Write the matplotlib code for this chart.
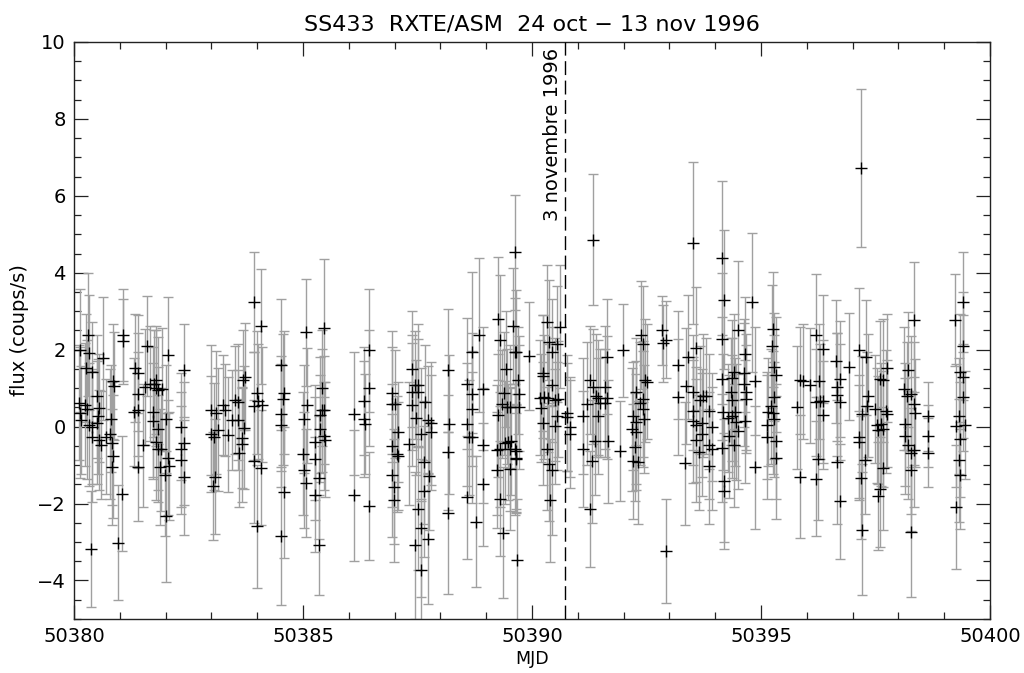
import matplotlib
matplotlib.use("Agg")
import matplotlib.pyplot as plt
from matplotlib.ticker import MultipleLocator

mjd0 = 50380.0
# time offsets (days after MJD 50380), flux (coups/s), errors
t = [
 0.12, 0.10, 0.13, 0.15, 0.24, 0.28, 0.31, 0.33, 0.27, 0.39, 0.33, 0.39, 0.40, 0.37,
 0.50, 0.55, 0.52, 0.50, 0.55, 0.58, 0.64, 0.69, 0.79, 0.80, 0.82, 0.86, 0.87, 0.86, 0.82,
 1.06, 1.07, 1.04, 0.97, 1.33, 1.39, 1.39, 1.31, 1.40, 1.39, 1.51, 1.59, 1.55, 1.66, 1.75,
 1.80, 1.80, 1.91, 1.84, 1.72, 1.73, 1.84, 1.80, 1.83, 1.90, 1.88, 2.01, 1.99, 2.06, 2.08,
 2.01, 2.06, 2.40, 2.33, 2.33, 2.40, 2.33, 2.40,
 3.00, 3.11, 3.00, 3.06, 3.15, 3.08, 3.04, 3.26, 3.30, 3.37, 3.46, 3.52, 3.59, 3.59, 3.61,
 3.66, 3.66, 3.68, 3.73, 3.71, 3.92, 4.08, 4.00, 4.02, 3.93, 4.10, 3.92, 4.08, 4.00,
 4.51, 4.58, 4.57, 4.51, 4.51, 4.58, 4.51,
 5.06, 5.08, 5.02, 5.01, 5.02, 5.06, 5.26, 5.26, 5.26, 5.34, 5.34, 5.37, 5.37, 5.41, 5.46,
 5.41, 5.46, 5.46, 5.48,
 6.11, 6.11, 6.34, 6.34, 6.35, 6.45, 6.45, 6.45,
 6.94, 6.95, 7.01, 7.08, 6.94, 7.06, 7.08, 6.95, 6.99, 6.99,
 7.37, 7.44, 7.52, 7.37, 7.52, 7.39, 7.47, 7.32, 7.57, 7.66, 7.73, 7.79, 7.79, 7.65, 7.74,
 7.65, 7.52, 7.57, 7.72, 7.44, 7.57,
 8.17, 8.19, 8.17, 8.17,
 8.59, 8.68, 8.68, 8.68, 8.59, 8.63, 8.68, 8.59, 8.85, 8.93, 8.93, 8.93, 8.78,
 9.25, 9.31, 9.43, 9.39, 9.34, 9.45, 9.52, 9.59, 9.62, 9.66, 9.62, 9.70, 9.25, 9.23, 9.29,
 9.40, 9.47, 9.55, 9.52, 9.62, 9.23, 9.52, 9.66, 9.31, 9.37, 9.68,
 9.94, 9.72, 9.72, 9.66, 9.66,
 10.25, 10.25, 10.32, 10.37, 10.44, 10.54, 10.61, 10.18, 10.27, 10.35, 10.44, 10.50, 10.57,
 10.19, 10.23, 10.50, 10.54, 10.32, 10.37, 10.44, 10.39, 10.76, 10.77, 10.82, 10.82,
 11.34, 11.12, 11.21, 11.26, 11.34, 11.40, 11.45, 11.49, 11.59, 11.63, 11.59, 11.64, 11.45,
 11.38, 11.65, 11.12, 11.30, 11.26, 11.99, 11.92,
 12.39, 12.43, 12.46, 12.50, 12.27, 12.36, 12.43, 12.21, 12.27, 12.42, 12.45, 12.18, 12.27,
 12.25, 12.21, 12.32, 12.83, 12.85, 12.92, 12.92,
 13.52, 13.19, 13.19, 13.41, 13.36, 13.59, 13.52, 13.67, 13.74, 13.80, 13.52, 13.52, 13.59,
 13.72, 13.72, 13.87, 13.92, 13.58, 13.65, 13.87, 13.94, 13.87, 13.34,
 14.14, 14.20, 14.14, 14.14, 14.17, 14.14, 14.20, 14.20, 14.29, 14.30, 14.37, 14.34, 14.37,
 14.42, 14.43, 14.37, 14.45, 14.49, 14.49, 14.42, 14.66, 14.62, 14.62, 14.67, 14.67, 14.66,
 14.80, 14.87, 14.87,
 15.26, 15.23, 15.28, 15.33, 15.28, 15.21, 15.16, 15.27, 15.28, 15.14, 15.14, 15.33, 15.33,
 15.79, 15.85, 15.91, 15.86, 16.06, 16.20, 16.21, 16.27, 16.25, 16.20,
 16.36, 16.29, 16.36, 16.36, 16.64, 16.72, 16.67, 16.65, 16.72, 16.65, 16.72, 16.93,
 17.18, 17.13, 17.29, 17.34, 17.32, 17.20, 17.13, 17.13, 17.27, 17.18, 17.20,
 17.49, 17.60, 17.66, 17.76, 17.53, 17.61, 17.56, 17.67, 17.73, 17.76, 17.66, 17.60, 17.56,
 18.20, 18.12, 18.18, 18.27, 18.34, 18.36, 18.34, 18.14, 18.14, 18.20, 18.27, 18.34, 18.27,
 18.27, 18.65, 18.65, 18.65,
 19.24, 19.40, 19.40, 19.35, 19.40, 19.40, 19.33, 19.26, 19.45, 19.35, 19.33, 19.35, 19.26,
]
flux = [
 1.98, 0.62, 0.36, 0.18, 0.57, 0.45, 2.39, 1.92, 1.52, 1.43, 0.05, 0.00, -0.26, -3.18,
 0.79, 0.48, 0.27, 0.10, -0.36, -0.48, 1.78, -0.26, -0.19, 0.21, -0.43, 1.18, 1.05, -0.77, -1.05,
 2.39, 2.22, -1.74, -3.02, 1.52, 1.39, 0.84, 0.38, 0.43, -1.05, -0.49, 2.10, 1.03, 1.12, 1.12,
 1.22, 1.00, 0.97, 0.94, 0.38, 0.15, -0.05, -0.40, -0.57, -0.59, -1.05, 0.19, -1.25, -0.81, -1.03,
 -2.33, 1.86, 1.46, 0.00, -0.59, -0.43, -0.86, -1.32,
 0.43, 0.36, -0.19, -0.26, -0.08, -1.30, -1.54, 0.56, 0.43, -0.21, 0.16, 0.69, 0.64, 0.18, -0.69,
 -0.29, -0.46, 1.22, 1.30, -0.03, 3.25, 2.61, 0.88, 0.66, 0.53, 0.57, -0.90, -1.07, -2.59,
 1.61, 0.88, 0.71, 0.34, 0.03, -1.71, -2.85,
 2.45, 0.55, 0.20, -0.70, -1.13, -1.46, -0.41, -0.84, -1.77, -3.09, -1.33, -0.05, 0.30, 0.42, 0.44,
 1.00, 2.56, -0.25, -0.34,
 0.34, -1.79, 0.66, 0.20, 0.07, 1.98, 1.00, -2.07,
 0.88, 0.58, 0.58, -0.15, -0.50, -0.71, -0.76, -1.26, -1.56, -1.92,
 1.50, 1.09, 1.07, 0.89, 0.89, 0.57, 0.23, -0.44, -0.18, 0.63, 0.18, 0.09, -0.15, -0.93, -1.29,
 -1.68, -2.14, -2.63, -2.91, -3.09, -3.73,
 1.46, 0.06, -0.67, -2.24,
 1.12, 1.93, 0.84, 0.47, 0.06, -0.28, -0.28, -1.84, 2.39, 0.98, -0.49, -1.50, -2.47,
 2.81, 2.24, 1.50, 0.87, 0.58, 0.52, 0.52, 2.62, 1.95, 1.95, 4.53, 1.20, 0.29, -0.61, -0.59,
 -0.42, -0.40, -0.38, -0.59, -0.59, -1.13, -1.10, -0.84, -1.87, -2.76, -3.47,
 1.83, 0.86, 0.51, -0.64, -0.81,
 1.39, 1.31, 2.71, 2.21, 1.93, 2.15, 2.60, 0.75, 0.77, 0.75, 1.09, 0.70, 0.72,
 0.48, 0.09, 0.01, 0.27, -0.58, -0.96, -1.13, -1.91, 0.35, 0.25, -0.01, -0.19,
 4.86, 0.28, 0.59, 1.21, 1.04, 0.80, 0.75, 0.61, 1.02, 1.82, 0.61, 0.75, 0.28,
 -0.38, -0.38, -0.58, -0.90, -2.14, 1.98, -0.64,
 2.39, 2.15, 1.21, 1.17, 0.91, 0.61, 0.72, 0.27, 0.11, 0.46, 0.20, -0.07, -0.14,
 -0.53, -0.90, -0.93, 2.50, 2.17, 2.26, -3.24,
 4.77, 1.61, 0.77, 1.81, 1.06, 2.04, 0.89, 0.70, 0.80, 0.80, 0.40, 0.14, 0.05,
 0.10, -0.20, 0.40, -0.01, -0.36, -0.67, -0.49, -0.58, -1.03, -0.95,
 4.38, 3.30, 2.29, 1.24, 0.38, -0.55, -1.41, -1.67, 0.22, -0.25, 1.26, 0.91, 0.70,
 1.43, 0.38, 0.27, 0.12, 2.50, -0.12, -0.49, 1.88, 1.39, 1.10, 0.90, 0.71, 0.14,
 3.23, 1.19, -1.06,
 2.53, 2.09, 1.55, 1.35, 0.77, 0.53, 0.38, 0.36, 0.19, 0.03, -0.27, -0.38, -0.81,
 0.50, 1.20, 1.18, -1.30, 1.07, 2.37, 0.63, 1.18, -0.83, -1.35,
 2.02, 0.66, 0.66, 0.31, 1.70, 1.24, 1.03, 0.83, 0.64, -0.92, -1.94, 1.56,
 6.72, 2.00, 1.80, 0.80, 0.53, 0.33, -0.26, -0.41, -0.86, -1.33, -2.68,
 0.46, 1.24, 1.21, 1.52, 0.03, 0.06, -0.08, -0.06, 0.40, 0.34, -1.08, -1.62, -1.80,
 1.48, 0.98, 0.79, 0.86, 0.60, 0.36, 2.78, 0.06, -0.24, -0.47, -0.68, -0.60, -1.12,
 -2.74, 0.27, -0.24, -0.68,
 2.78, 3.23, 2.10, 1.43, 1.30, 0.76, 0.28, 0.02, 0.05, -0.33, -0.88, -1.27, -2.09,
]
err = [
 1.6, 1.5, 1.7, 1.4, 1.6, 1.8, 1.6, 1.5, 1.4, 1.3, 1.6, 1.5, 1.7, 1.5,
 1.6, 1.4, 1.5, 1.6, 1.3, 1.4, 1.6, 1.5, 1.7, 1.4, 1.6, 1.5, 1.4, 1.6, 1.5,
 1.2, 1.1, 1.5, 1.5, 1.4, 1.5, 1.6, 1.4, 1.5, 1.4, 1.6, 1.3, 1.5, 1.5, 1.4,
 1.4, 1.5, 1.6, 1.4, 1.7, 1.5, 1.6, 1.5, 1.4, 1.6, 1.5, 1.4, 1.6, 1.5, 1.4,
 1.7, 1.5, 1.2, 1.4, 1.5, 1.6, 1.4, 1.5,
 1.7, 1.6, 1.5, 1.4, 1.6, 1.5, 1.4, 1.3, 1.2, 1.5, 1.3, 1.4, 1.5, 1.3, 1.4,
 1.3, 1.5, 1.3, 1.4, 1.6, 1.3, 1.5, 1.6, 1.5, 1.4, 1.5, 1.6, 1.5, 1.6,
 1.7, 1.6, 1.7, 1.5, 1.6, 1.7, 1.8,
 1.4, 1.5, 1.4, 1.6, 1.5, 1.4, 1.5, 1.6, 1.5, 1.3, 1.6, 1.4, 1.5, 1.6, 1.4,
 1.5, 1.8, 1.4, 1.5,
 1.6, 1.7, 1.4, 1.5, 1.3, 1.6, 1.5, 1.4,
 1.6, 1.5, 1.4, 1.3, 1.6, 1.5, 1.4, 1.6, 1.5, 1.6,
 1.5, 1.4, 1.6, 1.5, 1.4, 1.6, 1.5, 1.6, 1.7, 1.5, 1.4, 1.6, 1.5, 1.6, 1.4,
 1.7, 1.6, 1.8, 1.7, 1.9, 1.8,
 1.6, 1.8, 1.5, 2.1,
 1.7, 2.1, 1.6, 1.5, 1.6, 1.5, 1.7, 1.6, 2.0, 1.6, 1.5, 1.6, 1.7,
 1.6, 1.7, 1.5, 1.6, 1.4, 1.5, 1.6, 1.5, 1.4, 1.6, 1.5, 1.4, 1.6, 1.7, 1.5,
 1.6, 1.5, 1.4, 1.6, 1.7, 1.5, 1.6, 1.4, 1.5, 1.7, 1.6,
 1.4, 1.5, 1.6, 1.5, 1.4,
 1.5, 1.6, 1.5, 1.6, 1.4, 1.5, 1.6, 1.5, 1.6, 1.4, 1.5, 1.6, 1.5,
 1.4, 1.6, 1.5, 1.4, 1.6, 1.5, 1.7, 1.6, 1.5, 1.4, 1.3, 1.4,
 1.7, 1.5, 1.6, 1.4, 1.5, 1.6, 1.5, 1.4, 1.6, 1.5, 1.4, 1.6, 1.5,
 1.4, 1.6, 1.5, 1.6, 1.5, 1.2, 1.3,
 1.4, 1.5, 1.6, 1.5, 1.4, 1.6, 1.5, 1.4, 1.6, 1.5, 1.4, 1.6, 1.5,
 1.4, 1.5, 1.6, 0.9, 1.0, 1.0, 1.35,
 2.1, 1.4, 1.5, 1.6, 1.5, 1.6, 1.5, 1.4, 1.6, 1.5, 1.4, 1.6, 1.5,
 1.4, 1.6, 1.5, 1.4, 1.6, 1.5, 1.4, 1.6, 1.5, 1.6,
 2.0, 1.8, 1.7, 1.6, 1.5, 1.4, 1.6, 1.5, 1.4, 1.6, 1.5, 1.4, 1.6,
 1.5, 1.4, 1.6, 1.5, 1.8, 1.5, 1.6, 1.5, 1.4, 1.6, 1.5, 1.4, 1.6,
 1.8, 1.4, 1.6,
 1.5, 1.6, 1.4, 1.5, 1.6, 1.5, 1.4, 1.6, 1.5, 1.4, 1.6, 1.5, 1.6,
 1.6, 1.4, 1.5, 1.6, 1.5, 1.6, 1.4, 1.5, 1.6, 1.5,
 1.4, 1.5, 1.6, 1.4, 1.6, 1.5, 1.4, 1.6, 1.5, 1.6, 1.5, 1.4,
 2.05, 1.6, 1.5, 1.6, 1.4, 1.5, 1.6, 1.5, 1.4, 1.6, 1.7,
 1.4, 1.5, 1.6, 1.4, 1.5, 1.6, 1.4, 1.5, 1.6, 1.4, 1.6, 1.5, 1.4,
 1.5, 1.6, 1.4, 1.5, 1.6, 1.4, 1.5, 1.6, 1.5, 1.4, 1.6, 1.5, 1.6,
 1.7, 0.9, 0.8, 0.9,
 1.2, 1.3, 1.4, 1.5, 1.6, 1.4, 1.5, 1.6, 1.4, 1.5, 1.6, 1.4, 1.6,
]

xticks_major = [50380, 50385, 50390, 50395, 50400]
yticks_major = [-4, -2, 0, 2, 4, 6, 8, 10]
event_mjd = 50390.72
event_label = "3 novembre 1996"
title = "SS433  RXTE/ASM  24 oct \u2212 13 nov 1996"

x = [mjd0 + v for v in t]

fig = plt.figure(figsize=(10.24, 6.73), dpi=100)
ax = fig.add_axes([0.0723, 0.0803, 0.8945, 0.8573])

ax.errorbar(x, flux, yerr=err, fmt='none', ecolor='#a0a0a0', elinewidth=1.0,
            capsize=3.5, capthick=1.0, zorder=2)
ax.plot(x, flux, '+', color='black', ms=8, mew=1.0, zorder=3)

ax.axvline(event_mjd, color='black', lw=1.0, dashes=(10, 4), zorder=4)
ax.text(event_mjd - 0.06, 9.85, event_label, rotation=90, ha='right', va='top',
        fontsize=14, color='black')

ax.set_xlim(50380, 50400)
ax.set_ylim(-5, 10)
ax.set_xticks(xticks_major)
ax.set_xticklabels([str(v) for v in xticks_major])
ax.set_yticks(yticks_major)
ax.set_yticklabels([str(v).replace('-', '\u2212') for v in yticks_major])
ax.xaxis.set_minor_locator(MultipleLocator(1))
ax.yaxis.set_minor_locator(MultipleLocator(0.5))
ax.tick_params(which='both', direction='in', top=True, right=True, labelsize=14,
               color='#222222', width=0.9)
ax.tick_params(which='major', length=10, pad=6)
ax.tick_params(which='minor', length=5)
for s in ax.spines.values():
    s.set_linewidth(1.0)
    s.set_color('#222222')

ax.set_title(title, fontsize=16, pad=8)
ax.set_xlabel("MJD", fontsize=12.5, labelpad=3)
ax.set_ylabel("flux (coups/s)", fontsize=14, labelpad=6)

fig.savefig("out.png", dpi=100)
